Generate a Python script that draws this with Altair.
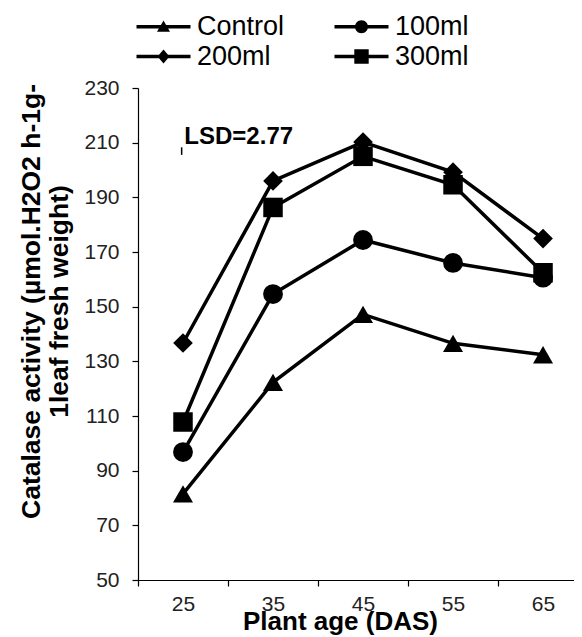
import altair as alt
import pandas as pd

# ---- data ----
ages = [25, 35, 45, 55, 65]
series = ["Control", "100ml", "200ml", "300ml"]
control = [81.5, 122.3, 147.2, 136.6, 132.4]
ml100 = [96.8, 154.6, 174.4, 166.0, 160.6]
ml200 = [136.7, 196.0, 210.2, 199.2, 174.9]
ml300 = [107.8, 186.3, 205.0, 194.6, 162.4]
y_ticks = [50, 70, 90, 110, 130, 150, 170, 190, 210, 230]
x_bounds = [20, 30, 40, 50, 60]
lsd_label = "LSD=2.77"
lsd_value = 2.77
lsd_x = 24.85
lsd_top = 208.3

shapes = ["triangle-up", "circle", "diamond", "square"]
sizes = [400, 380, 270, 380]
BAR = "M-2.7,-0.17L2.7,-0.17L2.7,0.17L-2.7,0.17Z"
legend_paths = [
    BAR + "M-0.65,0.5L0,-0.62L0.65,0.5Z",
    BAR + "M0.65,0A0.65,0.65 0 1,1 -0.65,0A0.65,0.65 0 1,1 0.65,0Z",
    BAR + "M0,-0.7L0.6,0L0,0.7L-0.6,0Z",
    BAR + "M-0.72,-0.72L0.72,-0.72L0.72,0.72L-0.72,0.72Z",
]

rows = []
for name, vals in zip(series, [control, ml100, ml200, ml300]):
    for a, v in zip(ages, vals):
        rows.append({"age": a, "value": v, "series": name, "legend_series": name})
df = pd.DataFrame(rows)

lsd_df = pd.DataFrame([{"x": lsd_x, "y": lsd_top - lsd_value, "y2": lsd_top,
                        "label": lsd_label, "tx": lsd_x + 0.3, "ty": lsd_top + 3.8}])

FONT = "Liberation Sans"

x_enc = alt.X(
    "age:Q",
    scale=alt.Scale(domain=[20, 68.44], nice=False, zero=False),
    axis=alt.Axis(
        values=x_bounds, labelExpr="datum.value + 5", labelOffset=45,
        labelFlush=False, labelOverlap=False, labelPadding=7,
        title="Plant age (DAS)", titleX=202, titleY=49, titleAlign="center",
        titleBaseline="alphabetic", titleFontSize=26, titleFontWeight="bold",
        titleFont=FONT, titleColor="black",
    ),
)
y_enc = alt.Y(
    "value:Q",
    scale=alt.Scale(domain=[50, 230], nice=False, zero=False),
    axis=alt.Axis(
        values=y_ticks, labelPadding=13,
        title=["Catalase activity (µmol.H2O2 h-1g-", "1leaf fresh weight)"],
        titleX=-107, titleY=213, titleAlign="center", titleBaseline="middle",
        titleFontSize=26.5, titleFontWeight="bold", titleFont=FONT,
        titleLineHeight=28, titleColor="black", titleAngle=270,
    ),
)

base = alt.Chart(df)

lines = base.mark_line(color="black", strokeWidth=3.5).encode(
    x=x_enc, y=y_enc, detail="series:N"
)

points = base.mark_point(filled=True, color="black", opacity=1).encode(
    x=x_enc, y=y_enc,
    shape=alt.Shape("series:N", scale=alt.Scale(domain=series, range=shapes), legend=None),
    size=alt.Size("series:N", scale=alt.Scale(domain=series, range=sizes), legend=None),
)

legend_layer = base.mark_point(filled=True, color="black", opacity=0).encode(
    x=x_enc, y=y_enc,
    shape=alt.Shape(
        "legend_series:N",
        scale=alt.Scale(domain=series, range=legend_paths),
        legend=alt.Legend(
            title=None, orient="none", legendX=12, legendY=-75, columns=2,
            direction="horizontal",
            symbolSize=400, symbolFillColor="black", symbolStrokeWidth=0,
            symbolOpacity=1, labelFontSize=27,
            labelFont=FONT, labelColor="black", labelOffset=20,
            columnPadding=49, rowPadding=2,
        ),
    ),
)

lsd_rule = alt.Chart(lsd_df).mark_rule(color="black", strokeWidth=1.5).encode(
    x=alt.X("x:Q"), y=alt.Y("y:Q"), y2="y2:Q"
)
lsd_text = alt.Chart(lsd_df).mark_text(
    align="left", baseline="middle", fontSize=24, fontWeight="bold", font=FONT, color="black"
).encode(x=alt.X("tx:Q"), y=alt.Y("ty:Q"), text="label:N")

chart = alt.layer(lines, points, legend_layer, lsd_rule, lsd_text).resolve_scale(
    shape="independent", size="independent"
).properties(
    width=436, height=492,
    autosize=alt.AutoSizeParams(type="none"),
    padding={"left": 130, "top": 80, "right": 0, "bottom": 56},
).configure_view(stroke=None).configure_axis(
    grid=False, domainColor="black", tickColor="black", domainWidth=1.2,
    tickWidth=1.2, tickSize=6, labelFont=FONT, labelFontSize=21, labelColor="#222",
)

chart.save("out.html", embed_options={"renderer": "svg", "actions": False})
